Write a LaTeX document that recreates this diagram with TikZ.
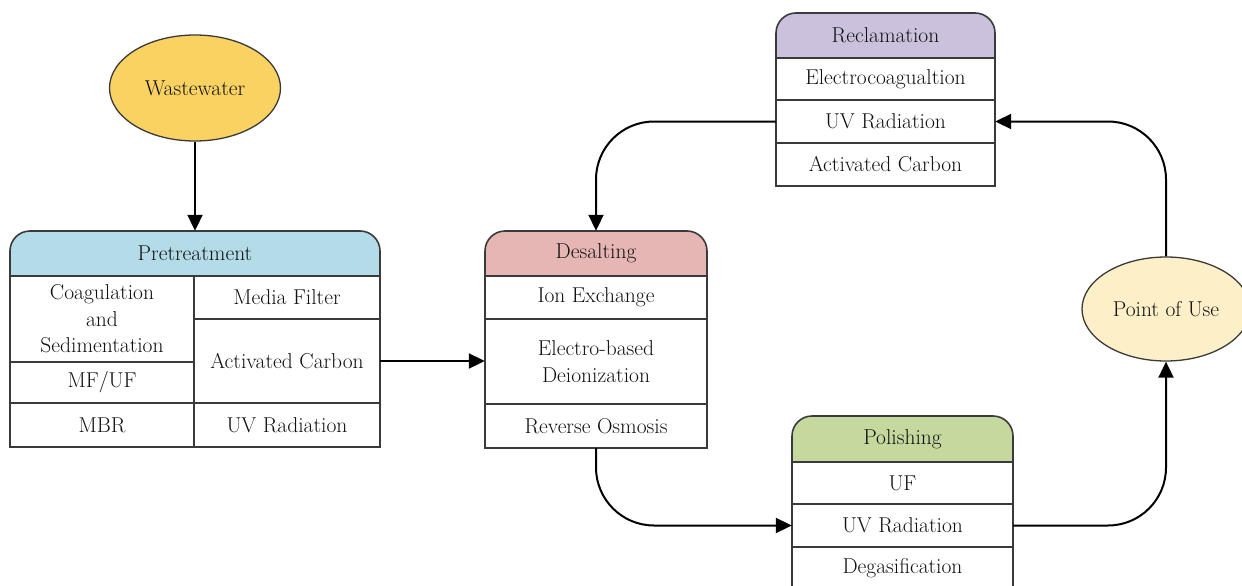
\documentclass[tikz,border=0pt]{standalone}
\usetikzlibrary{arrows.meta,shapes.geometric}
\definecolor{boxc}{HTML}{3A3A3A}
\definecolor{txt}{HTML}{111111}
\definecolor{wwc}{HTML}{F9D262}
\definecolor{pouc}{HTML}{FDEFC8}
\definecolor{prec}{HTML}{B3DCE8}
\definecolor{desc}{HTML}{E6B6B4}
\definecolor{recc}{HTML}{CCC1DD}
\definecolor{polc}{HTML}{C5D89E}
\newcommand{\fsz}{\rmfamily\fontsize{21.5}{26.5}\selectfont}
\begin{document}
\begin{tikzpicture}[x=1pt,y=-1pt,
  box/.style={draw=boxc, line width=1.6pt, line cap=rect},
  cell/.style={inner sep=0pt, align=center, font=\fsz, text=txt},
  oval/.style={ellipse, draw=boxc, line width=1.3pt, inner sep=0pt, font=\fsz, text=txt},
  conn/.style={line width=2pt, draw=black, -{Triangle[length=16pt,width=15pt]}, rounded corners=58pt}]
\path[use as bounding box] (0,0) rectangle (1242,586);

% ---------- Wastewater
\node[oval, fill=wwc, minimum width=171, minimum height=106] (ww) at (195,88) {Wastewater};

% ---------- Pretreatment
\fill[prec, rounded corners=20] (10,276) -- (10,231) -- (380,231) -- (380,276);
\draw[box, rounded corners=20] (10,447) -- (10,231) -- (380,231) -- (380,447);
\draw[box] (10,447) -- (380,447);
\draw[box] (10,276) -- (380,276);
\draw[box] (194,276) -- (194,447);
\draw[box] (10,362) -- (194,362);
\draw[box] (10,403) -- (380,403);
\draw[box] (194,319) -- (380,319);
\node[cell, minimum width=370, minimum height=45] (pre) at (195,253.5) {Pretreatment};
\node[cell, minimum width=184, minimum height=86] (coag) at (102,319) {Coagulation\\and\\Sedimentation};
\node[cell, minimum width=184, minimum height=41] (mfuf) at (102,382.5) {MF/UF};
\node[cell, minimum width=184, minimum height=44] (mbr) at (102,425) {MBR};
\node[cell, minimum width=186, minimum height=43] (media) at (287,297.5) {Media Filter};
\node[cell, minimum width=186, minimum height=84] (pac) at (287,361) {Activated Carbon};
\node[cell, minimum width=186, minimum height=44] (puv) at (287,425) {UV Radiation};

% ---------- Desalting
\fill[desc, rounded corners=20] (485,276) -- (485,231) -- (707,231) -- (707,276);
\draw[box, rounded corners=20] (485,448) -- (485,231) -- (707,231) -- (707,448);
\draw[box] (485,448) -- (707,448);
\draw[box] (485,276) -- (707,276);
\draw[box] (485,319) -- (707,319);
\draw[box] (485,404) -- (707,404);
\node[cell, minimum width=222, minimum height=45] (des) at (596,253.5) {Desalting};
\node[cell, minimum width=222, minimum height=43] (dion) at (596,297.5) {Ion Exchange};
\node[cell, minimum width=222, minimum height=85] (del) at (596,361.5) {Electro-based\\Deionization};
\node[cell, minimum width=222, minimum height=44] (dro) at (596,426) {Reverse Osmosis};

% ---------- Reclamation
\fill[recc, rounded corners=20] (776,58) -- (776,13) -- (995,13) -- (995,58);
\draw[box, rounded corners=20] (776,186) -- (776,13) -- (995,13) -- (995,186);
\draw[box] (776,186) -- (995,186);
\draw[box] (776,58) -- (995,58);
\draw[box] (776,100) -- (995,100);
\draw[box] (776,143) -- (995,143);
\node[cell, minimum width=219, minimum height=45] (rec) at (885.5,35.5) {Reclamation};
\node[cell, minimum width=219, minimum height=42] (rel) at (885.5,79) {Electrocoagualtion};
\node[cell, minimum width=219, minimum height=43] (ruv) at (885.5,121.5) {UV Radiation};
\node[cell, minimum width=219, minimum height=43] (rac) at (885.5,164.5) {Activated Carbon};

% ---------- Polishing
\fill[polc, rounded corners=20] (792,462) -- (792,416) -- (1013,416) -- (1013,462);
\draw[box, rounded corners=20] (792,600) -- (792,416) -- (1013,416) -- (1013,600);
\draw[box] (792,462) -- (1013,462);
\draw[box] (792,504) -- (1013,504);
\draw[box] (792,547) -- (1013,547);
\node[cell, minimum width=221, minimum height=46] (pol) at (902.5,439) {Polishing};
\node[cell, minimum width=221, minimum height=42] (puf) at (902.5,483) {UF};
\node[cell, minimum width=221, minimum height=43] (poluv) at (902.5,525.5) {UV Radiation};
\node[cell, minimum width=221, minimum height=43] (pdeg) at (902.5,568) {Degasification};

% ---------- Point of Use
\node[oval, fill=pouc, minimum width=168, minimum height=104] (pou) at (1166,309) {Point of Use};

% ---------- connectors
\draw[conn] (ww.south) -- (pre.north);
\draw[conn] (pac.east) -- (pac.east -| del.west);
\draw[conn] (ruv.west) -| (des.north);
\draw[conn] (dro.south) |- (poluv.west);
\draw[conn] (poluv.east) -| (pou.south);
\draw[conn] (pou.north) |- (ruv.east);
\end{tikzpicture}
\end{document}
